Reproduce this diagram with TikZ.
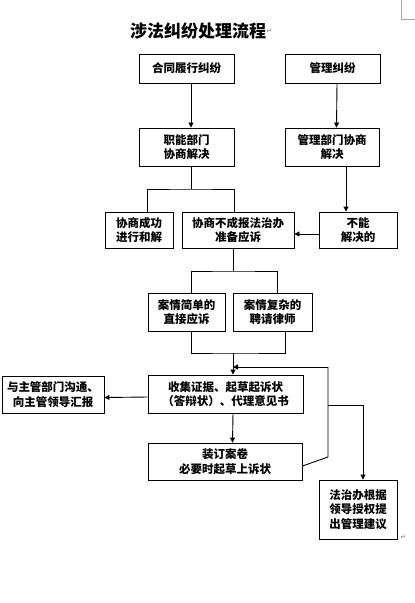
\documentclass[tikz,border=0pt]{standalone}
\usepackage{fontspec}
\newfontfamily\cjk{Noto Sans CJK SC}
\newfontfamily\dejavu{DejaVu Sans}
\usetikzlibrary{arrows.meta,calc}
\begin{document}
\begin{tikzpicture}[x=1pt,y=-1pt,
  box/.style={draw,line width=0.9pt,inner sep=0pt,align=center,
    font=\cjk\bfseries\fontsize{11.5}{14.5}\selectfont},
  ln/.style={line width=0.9pt},
  arr/.style={line width=0.9pt,-{Triangle[length=5pt,width=5pt]}},
  retmark/.style={text=gray,font=\dejavu\fontsize{7}{7}\selectfont,inner sep=0pt}]
\useasboundingbox (0,0) rectangle (415,603);
% page corner mark
\draw[gray!70,line width=0.5pt] (401,0) -- (401,19) -- (415,19);
% title
\node[font=\cjk\bfseries\fontsize{17}{17}\selectfont,inner sep=0pt] (title) at (198,31) {涉法纠纷处理流程};
\node[retmark,anchor=west] (r1) at (title.east) {↵};
% boxes
\node[box,minimum width=95pt,minimum height=29pt] (a) at (186.5,68.5) {合同履行纠纷};
\node[box,minimum width=95pt,minimum height=29pt] (b) at (332.5,68.5) {管理纠纷};
\node[box,minimum width=95pt,minimum height=38pt] (c) at (186.5,147) {职能部门\\协商解决};
\node[box,minimum width=94pt,minimum height=38pt] (d) at (332,147) {管理部门协商\\解决};
\node[box,minimum width=68pt,minimum height=36pt] (e) at (139,230) {协商成功\\进行和解};
\node[box,minimum width=112pt,minimum height=36pt] (f) at (238,230) {协商不成报法治办\\准备应诉};
\node[box,minimum width=78pt,minimum height=36pt] (g) at (358,230) {不能\\解决的};
\node[box,minimum width=77pt,minimum height=38pt] (h) at (186.5,312) {案情简单的\\直接应诉};
\node[box,minimum width=79pt,minimum height=38pt] (i) at (272.5,312) {案情复杂的\\聘请律师};
\node[box,minimum width=155pt,minimum height=38pt] (j) at (225.5,394) {收集证据、起草起诉状\\（答辩状）、代理意见书};
\node[box,minimum width=102pt,minimum height=37pt] (k) at (53,394.5) {与主管部门沟通、\\向主管领导汇报};
\node[box,minimum width=154pt,minimum height=37pt] (l) at (225,461.5) {装订案卷\\必要时起草上诉状};
\node[box,minimum width=78pt,minimum height=59pt] (m) at (358,509.5) {法治办根据\\领导授权提\\出管理建议};
\node[retmark,anchor=south west] (r2) at ([xshift=3pt]m.south east) {↵};
% helper coordinates
\coordinate (c1) at (191,189);
\coordinate (f1) at (233,271);
\coordinate (hi) at (233,353);
\coordinate (fb) at (328,367);
\coordinate (fbr) at (328,457);
\coordinate (br) at (328,405);
\coordinate (brm) at (363,405);
% connectors
\draw[arr] ([xshift=4.5pt]a.south) -- ([xshift=4.5pt]c.north);
\draw[arr] ([xshift=4.5pt]b.south) -- ([xshift=4.5pt]d.north);
\draw[arr] ([xshift=14pt]d.south) -- ([xshift=14pt]d.south |- g.north);
\draw[arr] ([yshift=-4pt]g.west) -- ([yshift=-4pt]f.east);
\draw[ln] ([xshift=4.5pt]c.south) -- (c1);
\draw[ln] ([xshift=8pt]e.north) |- (c1) -| ([xshift=-4pt]f.north);
\draw[ln] ([xshift=-5pt]f.south) -- (f1);
\draw[ln] ([xshift=4.5pt]h.north) |- (f1) -| ([xshift=4.5pt]i.north);
\draw[ln] ([xshift=4.5pt]h.south) |- (hi) -| ([xshift=12.5pt]i.south);
\draw[arr] (hi) -- ([xshift=7.5pt]j.north);
\draw[arr] ([yshift=-3pt]j.west) -- ([yshift=-3pt]k.east);
\draw[arr] ([xshift=7.5pt]j.south) -- ([xshift=7.5pt]l.north);
\draw[ln] ([yshift=-4.5pt]l.east) -- (fbr) -- (fb);
\draw[arr] (fb) -- (hi |- fb);
\draw[arr] (br) -- (brm) -- (brm |- m.north);
\end{tikzpicture}
\end{document}
